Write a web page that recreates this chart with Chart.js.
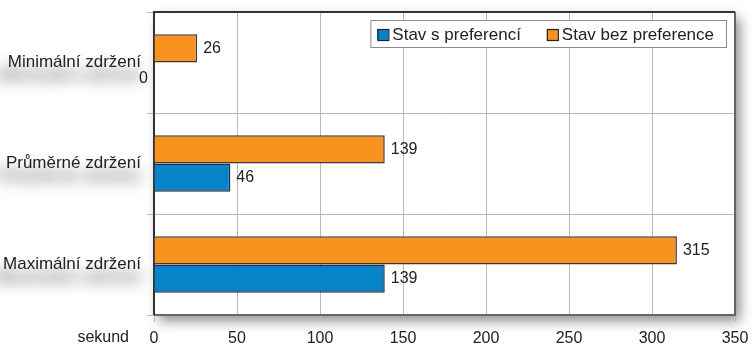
<!DOCTYPE html>
<html>
<head>
<meta charset="utf-8">
<script src="https://cdn.jsdelivr.net/npm/chart.js@4"></script>
<style>
  body { margin: 0; background: #fff; }
  canvas { display: block; }
</style>
</head>
<body>
<canvas id="zdrzeni" width="752" height="346"></canvas>
<script>
const kategorie = ['Minimální zdržení', 'Průměrné zdržení', 'Maximální zdržení'];
const bezPreference = [26, 139, 315];
const sPreferenci = [0, 46, 139];
const osaX = [0, 50, 100, 150, 200, 250, 300, 350];

const FONT = '"Liberation Sans", Arial, sans-serif';
const TEXT = '#222';

// bila plocha grafu se stinem, tmavy ramecek a stiny pod popisky
const ramecek = {
  id: 'ramecek',
  beforeDraw(chart) {
    const { ctx, chartArea: a } = chart;
    ctx.save();
    ctx.shadowColor = 'rgba(0,0,0,0.45)';
    ctx.shadowBlur = 12;
    ctx.shadowOffsetX = 5;
    ctx.shadowOffsetY = 6;
    ctx.fillStyle = '#fff';
    ctx.fillRect(a.left, a.top, a.right - a.left, a.bottom - a.top);
    ctx.restore();

    // jen stin textu: text se kresli mimo platno, stin se posune zpet
    const y = chart.scales.y;
    ctx.save();
    ctx.font = 'bold 17px ' + FONT;
    ctx.textAlign = 'right';
    ctx.textBaseline = 'middle';
    ctx.fillStyle = '#000';
    ctx.shadowColor = 'rgba(0,0,0,0.7)';
    ctx.shadowBlur = 16;
    ctx.shadowOffsetX = 2000;
    ctx.shadowOffsetY = 13;
    kategorie.forEach((k, i) => {
      ctx.fillText(k, 141 - 2000, y.getPixelForTick(i));
    });
    ctx.restore();
  },
  beforeDatasetsDraw(chart) {
    const { ctx, chartArea: a } = chart;
    ctx.save();
    ctx.lineWidth = 2;
    ctx.strokeStyle = '#666';
    ctx.beginPath();
    ctx.moveTo(a.right, a.top);
    ctx.lineTo(a.right, a.bottom);
    ctx.lineTo(a.left, a.bottom);
    ctx.stroke();
    ctx.strokeStyle = '#333';
    ctx.beginPath();
    ctx.moveTo(a.left, a.bottom);
    ctx.lineTo(a.left, a.top);
    ctx.lineTo(a.right, a.top);
    ctx.stroke();
    ctx.restore();
  },
  afterDatasetsDraw(chart) {
    const { ctx, chartArea: a } = chart;
    ctx.save();
    ctx.font = '16px ' + FONT;
    ctx.fillStyle = TEXT;
    ctx.textBaseline = 'middle';
    chart.data.datasets.forEach((ds, di) => {
      chart.getDatasetMeta(di).data.forEach((bar, i) => {
        const v = ds.data[i];
        if (v === 0) {
          ctx.textAlign = 'right';
          ctx.fillText(String(v), a.left - 6, bar.y + 2);
        } else {
          ctx.textAlign = 'left';
          ctx.fillText(String(v), bar.x + 6, bar.y);
        }
      });
    });

    // popis osy
    ctx.font = '16px ' + FONT;
    ctx.textAlign = 'right';
    ctx.fillText('sekund', 129, 338);
    ctx.restore();
  },
  afterDraw(chart) {
    // legenda uvnitr grafu, poradi obracene oproti datasetum
    const { ctx, chartArea: a } = chart;
    const polozky = chart.data.datasets.slice().reverse();
    const right = a.right - 8, top = a.top + 8, h = 28;
    ctx.save();
    ctx.font = '17px ' + FONT;
    const sirky = polozky.map((p) => ctx.measureText(p.label).width);
    const w = 7 + sirky.reduce((s, x) => s + x + 16, 0) + 25 * (polozky.length - 1) + 12;
    const left = right - w;
    ctx.fillStyle = '#fff';
    ctx.fillRect(left, top, w, h);
    ctx.strokeStyle = '#8a8a8a';
    ctx.lineWidth = 1;
    ctx.strokeRect(left + 0.5, top + 0.5, w - 1, h - 1);
    let x = left + 7;
    polozky.forEach((p, i) => {
      ctx.fillStyle = p.backgroundColor;
      ctx.fillRect(x, top + 9, 11, 11);
      ctx.strokeStyle = '#222';
      ctx.lineWidth = 1.2;
      ctx.strokeRect(x + 0.5, top + 9.5, 11, 11);
      ctx.fillStyle = TEXT;
      ctx.textBaseline = 'middle';
      ctx.textAlign = 'left';
      ctx.fillText(p.label, x + 15, top + h / 2 + 1);
      x += 16 + sirky[i] + 25;
    });
    ctx.restore();
  },
};

new Chart(document.getElementById('zdrzeni'), {
  type: 'bar',
  plugins: [ramecek],
  data: {
    labels: kategorie,
    datasets: [
      {
        label: 'Stav bez preference',
        data: bezPreference,
        backgroundColor: '#F7931E',
        borderColor: '#3a3a3a',
        borderWidth: 1.5,
      },
      {
        label: 'Stav s preferencí',
        data: sPreferenci,
        backgroundColor: '#0784C9',
        borderColor: '#2a2a3a',
        borderWidth: 1.5,
      },
    ],
  },
  options: {
    indexAxis: 'y',
    responsive: false,
    animation: false,
    devicePixelRatio: 1,
    layout: { padding: { top: 12, right: 17, left: 0, bottom: 0 } },
    datasets: {
      bar: { categoryPercentage: 0.56, barPercentage: 1 },
    },
    plugins: {
      legend: { display: false },
      tooltip: { enabled: false },
    },
    scales: {
      x: {
        min: osaX[0],
        max: osaX[osaX.length - 1],
        afterBuildTicks: (scale) => {
          scale.ticks = osaX.map((v) => ({ value: v }));
        },
        afterFit: (scale) => {
          scale.height = 31;
          scale.paddingLeft = 0;
          scale.paddingRight = 0;
        },
        grid: { color: '#b8b8b8', tickLength: 7, lineWidth: 1 },
        border: { display: false },
        ticks: {
          color: TEXT,
          padding: 7,
          maxRotation: 0,
          font: { family: FONT, size: 16 },
        },
      },
      y: {
        afterFit: (scale) => {
          scale.width = 154;
          scale.paddingTop = 0;
          scale.paddingBottom = 0;
        },
        grid: { color: '#b8b8b8', tickLength: 7, offset: true, lineWidth: 1 },
        border: { display: false },
        ticks: {
          color: TEXT,
          padding: 6,
          font: { family: FONT, size: 17 },
        },
      },
    },
  },
});
</script>
</body>
</html>
